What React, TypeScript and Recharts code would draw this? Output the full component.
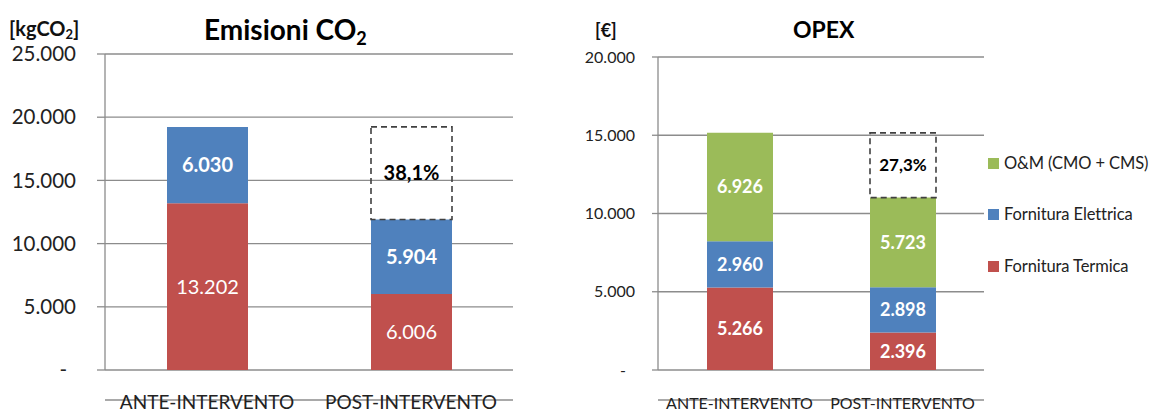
import React from 'react';
import { BarChart, Bar, XAxis, YAxis, CartesianGrid, LabelList } from 'recharts';

const categories = ['ANTE-INTERVENTO', 'POST-INTERVENTO'];

// Emissioni CO2 [kgCO2]
const co2Termica = [13202, 6006];
const co2Elettrica = [6030, 5904];
const co2Reduction = ['', '38,1%'];
const co2Ticks = [0, 5000, 10000, 15000, 20000, 25000];

// OPEX [€]
const opexTermica = [5266, 2396];
const opexElettrica = [2960, 2898];
const opexOM = [6926, 5723];
const opexReduction = ['', '27,3%'];
const opexTicks = [0, 5000, 10000, 15000, 20000];

const legendItems = [
  { label: 'O&M (CMO + CMS)', color: '#9BBB59' },
  { label: 'Fornitura Elettrica', color: '#4F81BD' },
  { label: 'Fornitura Termica', color: '#C0504D' },
];

const RED = '#C0504D';
const BLUE = '#4F81BD';
const GREEN = '#9BBB59';
const GRID = '#8C8C8C';
const TXT = '#222222';
const FONT = 'Lato, "Open Sans", sans-serif';

const fmt = (v: any) => {
  if (v === '' || v === null || v === undefined) return '';
  const n = Number(v);
  return String(Math.round(n)).replace(/\B(?=(\d{3})+(?!\d))/g, '.');
};

const co2Total = (i: number) => co2Termica[i] + co2Elettrica[i];
const opexTotal = (i: number) => opexTermica[i] + opexElettrica[i] + opexOM[i];

const co2Data = categories.map((name, i) => ({
  name,
  termica: co2Termica[i],
  elettrica: co2Elettrica[i],
  gap: i === 0 ? 0 : co2Total(0) - co2Total(i),
  pct: co2Reduction[i],
}));

const opexData = categories.map((name, i) => ({
  name,
  termica: opexTermica[i],
  elettrica: opexElettrica[i],
  om: opexOM[i],
  gap: i === 0 ? 0 : opexTotal(0) - opexTotal(i),
  pct: opexReduction[i],
}));

const makeYTick = (fs: number, dashShift: number) => (props: any) => {
  const { x, y, payload } = props;
  const isZero = payload.value === 0;
  return (
    <text
      x={isZero ? x - dashShift : x}
      y={y}
      dy="0.35em"
      textAnchor="end"
      fontSize={fs}
      fill={TXT}
      fontFamily={FONT}
    >
      {isZero ? '-' : fmt(payload.value)}
    </text>
  );
};

const makeXTick = (fs: number, dy: number) => (props: any) => {
  const { x, y, payload } = props;
  return (
    <text x={x} y={y} dy={dy} textAnchor="middle" fontSize={fs} fill={TXT} fontFamily={FONT}>
      {payload.value}
    </text>
  );
};

const labelProps = (fs: number, bold: boolean) => ({
  fill: '#FFFFFF',
  fontSize: fs,
  fontWeight: bold ? 700 : 400,
  fontFamily: FONT,
});

const subStyle = (fs: number, drop: number): React.CSSProperties => ({
  fontSize: fs,
  position: 'relative',
  top: drop,
  lineHeight: 0,
  verticalAlign: 'baseline',
});

export default function App() {
  return (
    <div
      style={{
        position: 'absolute',
        left: 0,
        top: 0,
        width: 1157,
        height: 413,
        background: '#fff',
        fontFamily: FONT,
        overflow: 'hidden',
      }}
    >
      {/* Left chart */}
      <div style={{ position: 'absolute', left: 0, top: 0 }}>
        <BarChart
          width={560}
          height={413}
          data={co2Data}
          margin={{ top: 54, right: 47, bottom: 5, left: 0 }}
          barSize={81}
        >
          <CartesianGrid horizontal vertical={false} stroke={GRID} strokeWidth={1.3} />
          <XAxis
            xAxisId="b"
            type="number"
            domain={[0, 2]}
            ticks={[0, 1, 2]}
            tick={false}
            tickSize={7}
            height={8}
            stroke={GRID}
            axisLine={{ stroke: GRID, strokeWidth: 1.3 }}
            tickLine={{ stroke: GRID, strokeWidth: 1.3 }}
          />
          <XAxis
            dataKey="name"
            axisLine={false}
            tickLine={false}
            height={30}
            tick={makeXTick(19, 31)}
          />
          <YAxis
            domain={[0, 25000]}
            ticks={co2Ticks}
            width={105}
            tickSize={8}
            tickMargin={21}
            axisLine={{ stroke: GRID, strokeWidth: 1.3 }}
            tickLine={{ stroke: GRID, strokeWidth: 1.3 }}
            tick={makeYTick(20.5, 9)}
            interval={0}
          />
          <Bar dataKey="termica" stackId="a" fill={RED} isAnimationActive={false}>
            <LabelList dataKey="termica" position="center" formatter={fmt} {...labelProps(20, false)} />
          </Bar>
          <Bar dataKey="elettrica" stackId="a" fill={BLUE} isAnimationActive={false}>
            <LabelList dataKey="elettrica" position="center" formatter={fmt} {...labelProps(20, true)} />
          </Bar>
          <Bar
            dataKey="gap"
            stackId="a"
            fill="none"
            stroke="#404040"
            strokeWidth={1.6}
            strokeDasharray="6 4"
            isAnimationActive={false}
          >
            <LabelList dataKey="pct" position="center" fill="#000" fontSize={20} fontWeight={700} fontFamily={FONT} />
          </Bar>
        </BarChart>
      </div>

      {/* Right chart */}
      <div style={{ position: 'absolute', left: 540, top: 0 }}>
        <BarChart
          width={460}
          height={413}
          data={opexData}
          margin={{ top: 57, right: 16, bottom: 5, left: 0 }}
          barSize={66}
        >
          <CartesianGrid horizontal vertical={false} stroke={GRID} strokeWidth={1.3} />
          <XAxis
            xAxisId="b"
            type="number"
            domain={[0, 2]}
            ticks={[0, 1, 2]}
            tick={false}
            tickSize={7}
            height={8}
            stroke={GRID}
            axisLine={{ stroke: GRID, strokeWidth: 1.3 }}
            tickLine={{ stroke: GRID, strokeWidth: 1.3 }}
          />
          <XAxis
            dataKey="name"
            axisLine={false}
            tickLine={false}
            height={30}
            tick={makeXTick(16, 31)}
          />
          <YAxis
            domain={[0, 20000]}
            ticks={opexTicks}
            width={118}
            tickSize={6}
            tickMargin={17}
            axisLine={{ stroke: GRID, strokeWidth: 1.3 }}
            tickLine={{ stroke: GRID, strokeWidth: 1.3 }}
            tick={makeYTick(16, 9)}
            interval={0}
          />
          <Bar dataKey="termica" stackId="a" fill={RED} isAnimationActive={false}>
            <LabelList dataKey="termica" position="center" formatter={fmt} {...labelProps(18, true)} />
          </Bar>
          <Bar dataKey="elettrica" stackId="a" fill={BLUE} isAnimationActive={false}>
            <LabelList dataKey="elettrica" position="center" formatter={fmt} {...labelProps(18, true)} />
          </Bar>
          <Bar dataKey="om" stackId="a" fill={GREEN} isAnimationActive={false}>
            <LabelList dataKey="om" position="center" formatter={fmt} {...labelProps(18, true)} />
          </Bar>
          <Bar
            dataKey="gap"
            stackId="a"
            fill="none"
            stroke="#404040"
            strokeWidth={1.6}
            strokeDasharray="6 4"
            isAnimationActive={false}
          >
            <LabelList dataKey="pct" position="center" fill="#000" fontSize={17} fontWeight={700} fontFamily={FONT} />
          </Bar>
        </BarChart>
      </div>

      {/* Titles and units */}
      <div style={{ position: 'absolute', left: 9, top: 17, fontSize: 20, lineHeight: '22px', fontWeight: 700, color: '#111', whiteSpace: 'nowrap' }}>
        [kgCO<span style={subStyle(13, 3)}>2</span>]
      </div>
      <div style={{ position: 'absolute', left: 204, top: 14, fontSize: 28, lineHeight: '30px', fontWeight: 700, color: '#000', whiteSpace: 'nowrap' }}>
        Emisioni CO<span style={subStyle(18, 5)}>2</span>
      </div>
      <div style={{ position: 'absolute', left: 595, top: 20, fontSize: 18, lineHeight: '20px', fontWeight: 700, color: '#111', whiteSpace: 'nowrap' }}>
        [€]
      </div>
      <div style={{ position: 'absolute', left: 793, top: 16, fontSize: 23, lineHeight: '26px', fontWeight: 700, color: '#000', whiteSpace: 'nowrap' }}>
        OPEX
      </div>

      {/* Legend */}
      {legendItems.map((it, i) => (
        <div
          key={it.label}
          style={{
            position: 'absolute',
            left: 988,
            top: [163, 214, 266][i] - 11,
            height: 22,
            display: 'flex',
            alignItems: 'center',
            whiteSpace: 'nowrap',
            fontSize: 16.5,
            letterSpacing: -0.1,
            color: TXT,
          }}
        >
          <span style={{ display: 'inline-block', width: 11, height: 11, background: it.color, marginRight: 5 }} />
          {it.label}
        </div>
      ))}
    </div>
  );
}
